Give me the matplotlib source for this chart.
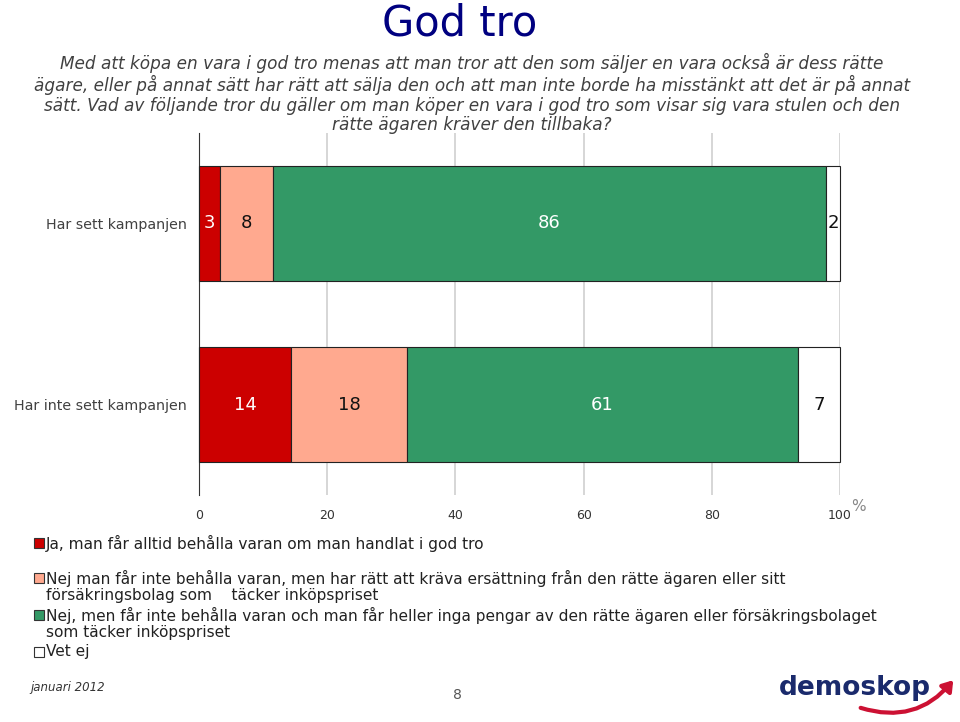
import matplotlib.pyplot as plt
from matplotlib.patches import Rectangle, FancyArrowPatch

groups = ["Har inte sett kampanjen", "Har sett kampanjen"]
answers = [
    "Ja, man får alltid behålla varan om man handlat i god tro",
    "Nej man får inte behålla varan, men har rätt att kräva ersättning från den rätte ägaren eller sitt\nförsäkringsbolag som    täcker inköpspriset",
    "Nej, men får inte behålla varan och man får heller inga pengar av den rätte ägaren eller försäkringsbolaget\nsom täcker inköpspriset",
    "Vet ej",
]
# shares per answer, [Har inte sett, Har sett]
values = [
    [14.4, 3.3],
    [18.0, 8.2],
    [61.0, 86.3],
    [6.6, 2.2],
]
colors = ["#cc0000", "#ffa98f", "#339966", "#ffffff"]
text_colors = ["white", "#111111", "white", "#111111"]
ticks = [0, 20, 40, 60, 80, 100]

plt.rcParams['font.family'] = ['DejaVu Sans']

fig = plt.figure(figsize=(9.6, 7.22), dpi=100)
ax = fig.add_axes([199 / 960, 1 - 495 / 722, 641 / 960, 362 / 722])

left = [0] * len(groups)
for vals, col, tcol in zip(values, colors, text_colors):
    bars = ax.barh(range(len(groups)), vals, left=left, height=0.63,
                   color=col, edgecolor="#222222", linewidth=0.8, zorder=3,
                   clip_on=False)
    for b, v in zip(bars, vals):
        ax.text(b.get_x() + b.get_width() / 2, b.get_y() + b.get_height() / 2,
                str(round(v)), ha="center", va="center", fontsize=13,
                color=tcol, zorder=4)
    left = [l + v for l, v in zip(left, vals)]

ax.set_xlim(0, 100)
ax.set_ylim(-0.5, 1.5)
ax.set_xticks(ticks)
ax.set_xticklabels([str(t) for t in ticks], fontsize=9, color="#333333")
ax.set_yticks(range(len(groups)))
ax.set_yticklabels(groups, fontsize=10.3, color="#404040")
ax.tick_params(length=0, pad=9)
ax.tick_params(axis="x", pad=10)
ax.grid(axis="x", color="#d0d0d0", linewidth=1.2, zorder=0)
for s in ["top", "right", "bottom"]:
    ax.spines[s].set_visible(False)
ax.spines["left"].set_color("#333333")
ax.text(101.8, -0.52, "%", fontsize=11, color="#888888",
        ha="left", va="top", clip_on=False)

fig.text(460 / 960, 1 - 23 / 722, "God tro", ha="center", va="center",
         fontsize=30, color="#000080", family="Liberation Sans Narrow")
subtitle = ("Med att köpa en vara i god tro menas att man tror att den som säljer en vara också är dess rätte\n"
            "ägare, eller på annat sätt har rätt att sälja den och att man inte borde ha misstänkt att det är på annat\n"
            "sätt. Vad av följande tror du gäller om man köper en vara i god tro som visar sig vara stulen och den\n"
            "rätte ägaren kräver den tillbaka?")
fig.text(472 / 960, 1 - 53 / 722, subtitle, ha="center", va="top", fontsize=12.2,
         style="italic", color="#404040", linespacing=1.12)

# legend
leg_y = [543, 578, 615, 652]
for txt, col, y in zip(answers, colors, leg_y):
    fig.patches.append(Rectangle((34 / 960, 1 - (y + 5) / 722), 10 / 960, 10 / 722,
                                 transform=fig.transFigure, facecolor=col,
                                 edgecolor="#333333", linewidth=0.8))
    fig.text(46 / 960, 1 - (y - 8) / 722, txt, ha="left", va="top", fontsize=11.1,
             color="#222222", linespacing=1.1)

fig.text(30 / 960, 1 - 688 / 722, "januari 2012", fontsize=8.5, style="italic",
         color="#333333", va="center")
fig.text(457 / 960, 1 - 695 / 722, "8", fontsize=10, color="#555555", ha="center", va="center")
fig.text(855 / 960, 1 - 688 / 722, "demoskop", fontsize=19, fontweight="bold",
         color="#1a2a6c", ha="center", va="center")
arrow = FancyArrowPatch((858 / 960, 1 - 707 / 722), (955 / 960, 1 - 678 / 722),
                        transform=fig.transFigure, connectionstyle="arc3,rad=0.35",
                        arrowstyle="-|>,head_length=6,head_width=4", color="#cc1133",
                        linewidth=3)
fig.patches.append(arrow)

fig.savefig("out.png", dpi=100)
